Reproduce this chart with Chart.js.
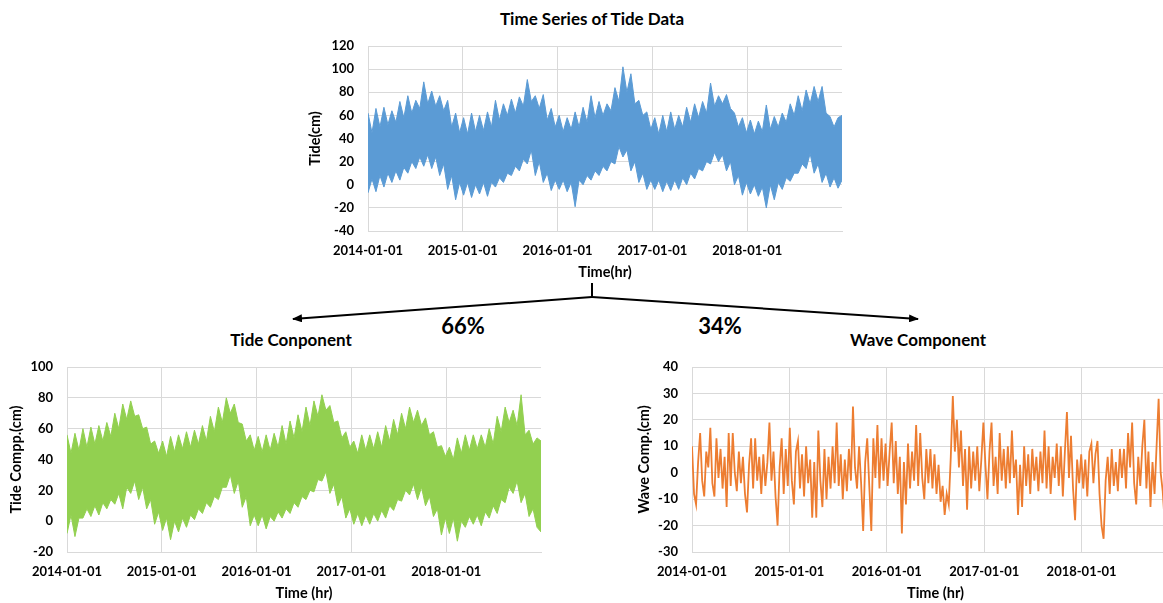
<!DOCTYPE html>
<html>
<head>
<meta charset="utf-8">
<title>Time Series of Tide Data</title>
<script src="https://cdn.jsdelivr.net/npm/chart.js"></script>
<style>
  html, body { margin: 0; padding: 0; width: 1163px; height: 603px; overflow: hidden; background: #fff; }
  body { position: relative; font-family: Lato, "Liberation Sans", sans-serif; color: #000; }
  canvas { position: absolute; }
  .lbl { position: absolute; transform: translate(-50%, -50%); font-weight: bold; white-space: nowrap; }
</style>
</head>
<body>
<svg width="1163" height="603" style="position:absolute;left:0;top:0">
  <defs>
    <marker id="head" markerWidth="10" markerHeight="8" refX="9" refY="4" orient="auto" markerUnits="userSpaceOnUse">
      <path d="M0,0 L10,4 L0,8 z" fill="#000"/>
    </marker>
  </defs>
  <line x1="592" y1="283" x2="592" y2="297" stroke="#000" stroke-width="2"/>
  <line x1="592" y1="297" x2="293" y2="319" stroke="#000" stroke-width="2" marker-end="url(#head)"/>
  <line x1="592" y1="297" x2="918" y2="319" stroke="#000" stroke-width="2" marker-end="url(#head)"/>
</svg>

<div class="lbl" style="left:592px;top:18px;font-size:17px">Time Series of Tide Data</div>
<div class="lbl" style="left:291px;top:339px;font-size:17px">Tide Conponent</div>
<div class="lbl" style="left:918px;top:339px;font-size:17px">Wave Component</div>
<div class="lbl" style="left:463px;top:325px;font-size:22px">66%</div>
<div class="lbl" style="left:720px;top:325px;font-size:22px">34%</div>

<canvas id="tideChart" width="560" height="285" style="left:300px;top:0"></canvas>
<canvas id="tideCompChart" width="560" height="303" style="left:0;top:300px"></canvas>
<canvas id="waveChart" width="580" height="303" style="left:620px;top:300px"></canvas>

<script>
// tick labels on the time axis (one per year)
const yearTicks = ["2014-01-01", "2015-01-01", "2016-01-01", "2017-01-01", "2018-01-01"];

// measured tide: upper / lower edge of the band, twice a month, 2014..2018
// (spike tip, then the solid edge behind it)
const tideHigh = [
  62, 45, 66, 50, 67, 52, 64, 54, 72, 58, 77, 62, 73, 66, 89, 70, 81, 68, 77, 64, 73, 50, 62, 45,
  58, 44, 62, 46, 60, 47, 63, 50, 73, 56, 70, 60, 74, 62, 76, 68, 91, 72, 77, 66, 78, 56, 66, 50,
  60, 46, 58, 48, 63, 50, 67, 54, 77, 58, 72, 60, 70, 64, 84, 72, 102, 80, 96, 70, 73, 60, 63, 48,
  58, 44, 60, 46, 63, 48, 60, 50, 67, 54, 70, 58, 72, 62, 88, 68, 77, 70, 78, 66, 62, 50, 58, 45,
  56, 44, 55, 46, 69, 48, 59, 50, 62, 54, 70, 60, 77, 64, 82, 70, 85, 72, 85, 62, 59, 50, 58, 60,
];
const tideLow = [
  -7, 5, -6, 8, -2, 10, 2, 12, 4, 15, 10, 20, 14, 24, 16, 26, 14, 24, 8, 18, -4, 8, -13, 2,
  -9, 2, -11, 0, -8, 2, -10, 2, -2, 6, 2, 10, 8, 16, 12, 22, 18, 30, 8, 20, 2, 10, -5, 4,
  -4, 4, -6, 2, -19, 4, 0, 8, 4, 12, 8, 16, 12, 20, 18, 33, 24, 30, 12, 20, 2, 10, -4, 4,
  -4, 4, -6, 3, -5, 4, -4, 6, 0, 10, 5, 14, 12, 20, 18, 28, 20, 26, 12, 20, 0, 8, -9, 2,
  -8, 0, -10, -2, -20, 0, -13, 2, -4, 6, 3, 10, 10, 18, 14, 27, 10, 18, 2, 10, -2, 6, -3, 4,
];

// tide component
const compHigh = [
  56, 44, 57, 46, 60, 48, 61, 50, 62, 52, 64, 55, 70, 60, 76, 66, 78, 68, 69, 60, 61, 50, 52, 44,
  52, 42, 55, 45, 56, 47, 58, 48, 59, 50, 62, 52, 68, 58, 74, 64, 80, 70, 76, 64, 63, 52, 56, 46,
  55, 45, 56, 46, 57, 48, 62, 50, 65, 54, 69, 58, 74, 62, 78, 68, 82, 72, 75, 64, 65, 54, 58, 48,
  52, 44, 56, 46, 56, 47, 58, 48, 62, 52, 66, 56, 70, 60, 74, 64, 72, 62, 67, 56, 58, 48, 49, 42,
  48, 40, 54, 44, 56, 46, 56, 47, 56, 48, 60, 50, 68, 58, 74, 64, 72, 62, 82, 56, 59, 50, 54, 52,
];
const compLow = [
  -8, 4, -10, 2, 2, 8, 3, 10, 4, 12, 8, 14, 11, 18, 8, 22, 18, 26, 14, 22, 8, 14, -2, 6,
  -6, 2, -12, 0, -7, 2, -4, 4, 1, 8, 5, 12, 9, 16, 14, 22, 22, 30, 18, 26, 9, 16, -3, 4,
  -3, 4, -5, 3, 0, 6, 2, 8, 5, 12, 9, 16, 14, 20, 19, 27, 26, 32, 18, 24, 10, 16, 2, 8,
  -2, 5, -3, 4, -2, 5, 0, 7, 2, 10, 7, 14, 13, 20, 17, 24, 14, 22, 10, 16, 3, 8, -9, 2,
  -8, 2, -13, 0, -4, 3, -2, 4, -3, 6, 2, 10, 5, 14, 12, 22, 18, 26, 12, 18, 3, 8, -4, -7,
];

// wave component, about weekly
const waveValues = [
  10, -8, -12, 4, 15, -3, -9, 8, 2, 17, -4, -9, 13, -2, 9, -6, 6, -13, 15, -5, 15, 0, -7, 8,
  -4, 6, -8, -15, 3, 13, -6, 13, -3, 6, -8, 7, -5, 4, 19, -3, 8, -9, -20, 2, 13, -8, 9, -5,
  17, -3, -12, 8, 12, -6, 7, -9, 10, -4, 5, -17, 4, -17, 16, -3, -13, 9, -10, 6, -6, 10, -4, 19,
  -5, 7, -10, 5, -7, 9, -3, 25, 2, -6, 10, -4, -22, 4, 13, -5, -22, 13, -2, 18, -6, 13, -3, 11,
  -5, 8, 19, -4, 12, -8, 6, -23, 4, -12, 11, -6, 8, -3, 18, -5, 15, -2, -10, 9, -4, 9, -6, 7,
  -8, 3, -11, -5, -16, -8, -12, 6, 29, 8, 20, 2, 16, -5, 9, -14, 10, -6, 8, -3, 10, -7, 5, 19,
  3, -10, 8, 19, -5, 6, -8, 15, -3, 9, -6, 10, -4, 16, -2, 5, -16, 3, -13, 10, -5, 7, -8, 9,
  -3, 6, -7, 8, -4, 16, -6, 10, -8, 6, -2, 11, -5, 10, -9, 8, 23, -2, 14, -6, -18, 5, -4, 7,
  -6, 5, -9, 8, 11, -4, 7, 12, -8, -20, -25, -3, 6, -8, 9, -5, 4, -7, 9, -2, 9, -6, 15, 2,
  19, -4, -12, 6, -5, 10, 20, -6, 8, -13, 4, -8, 10, 28, 0, -7, -19, 3, -5, 8, -3, 5, -6, 2,
];

const gridColor = "#d9d9d9";
const textColor = "#000";
const tickFont = { family: "Lato", size: 13, weight: "bold" };
const axisFont = { family: "Lato", size: 14.5, weight: "bold" };

// x in years since 2014-01-01, spread over the 5 years
function toPoints(values) {
  return values.map((v, i) => ({ x: (i * 5) / (values.length - 1), y: v }));
}

function drawChart(id, cfg) {
  return new Chart(document.getElementById(id), {
    type: "line",
    data: { datasets: cfg.datasets },
    options: {
      responsive: false,
      animation: false,
      layout: { padding: cfg.padding },
      plugins: { legend: { display: false }, tooltip: { enabled: false } },
      elements: { point: { radius: 0 }, line: { tension: 0 } },
      scales: {
        x: {
          type: "linear",
          min: 0,
          max: 5,
          afterBuildTicks: (s) => { s.ticks = s.ticks.filter((t) => t.value < 5); },
          afterFit: (s) => { s.height = 50; },
          ticks: { stepSize: 1, padding: 12, maxRotation: 0, autoSkip: false, font: tickFont, color: textColor,
                   callback: (v) => yearTicks[v] },
          grid: { color: gridColor, drawTicks: false },
          border: { color: gridColor },
          title: { display: true, text: cfg.xTitle, font: axisFont, color: textColor, padding: 0 },
        },
        y: {
          min: cfg.yMin,
          max: cfg.yMax,
          afterFit: (s) => { s.width = cfg.yWidth; },
          ticks: { stepSize: cfg.yStep, padding: 14, font: tickFont, color: textColor },
          grid: { color: gridColor, drawTicks: false },
          border: { color: gridColor },
          title: { display: true, text: cfg.yTitle, font: axisFont, color: textColor,
                   padding: { top: cfg.yTitlePad, bottom: 0 } },
        },
      },
    },
  });
}

function band(high, low, color) {
  return [
    { data: toPoints(high), borderColor: color, backgroundColor: color, borderWidth: 1, fill: "+1" },
    { data: toPoints(low), borderColor: color, borderWidth: 1, fill: false },
  ];
}

drawChart("tideChart", {
  datasets: band(tideHigh, tideLow, "#5b9bd5"),
  padding: { top: 46, right: 18, bottom: 4, left: 0 },
  yMin: -40, yMax: 120, yStep: 20, yWidth: 68, yTitlePad: 7,
  xTitle: "Time(hr)", yTitle: "Tide(cm)",
});

drawChart("tideCompChart", {
  datasets: band(compHigh, compLow, "#92d050"),
  padding: { top: 67, right: 19, bottom: 1, left: 0 },
  yMin: -20, yMax: 100, yStep: 20, yWidth: 67, yTitlePad: 8,
  xTitle: "Time (hr)", yTitle: "Tide Compp.(cm)",
});

drawChart("waveChart", {
  datasets: [{ data: toPoints(waveValues), borderColor: "#ed7d31", borderWidth: 1.8, fill: false }],
  padding: { top: 67, right: 21, bottom: 1, left: 0 },
  yMin: -30, yMax: 40, yStep: 10, yWidth: 72, yTitlePad: 16,
  xTitle: "Time (hr)", yTitle: "Wave Comp.(cm)",
});
</script>
</body>
</html>
